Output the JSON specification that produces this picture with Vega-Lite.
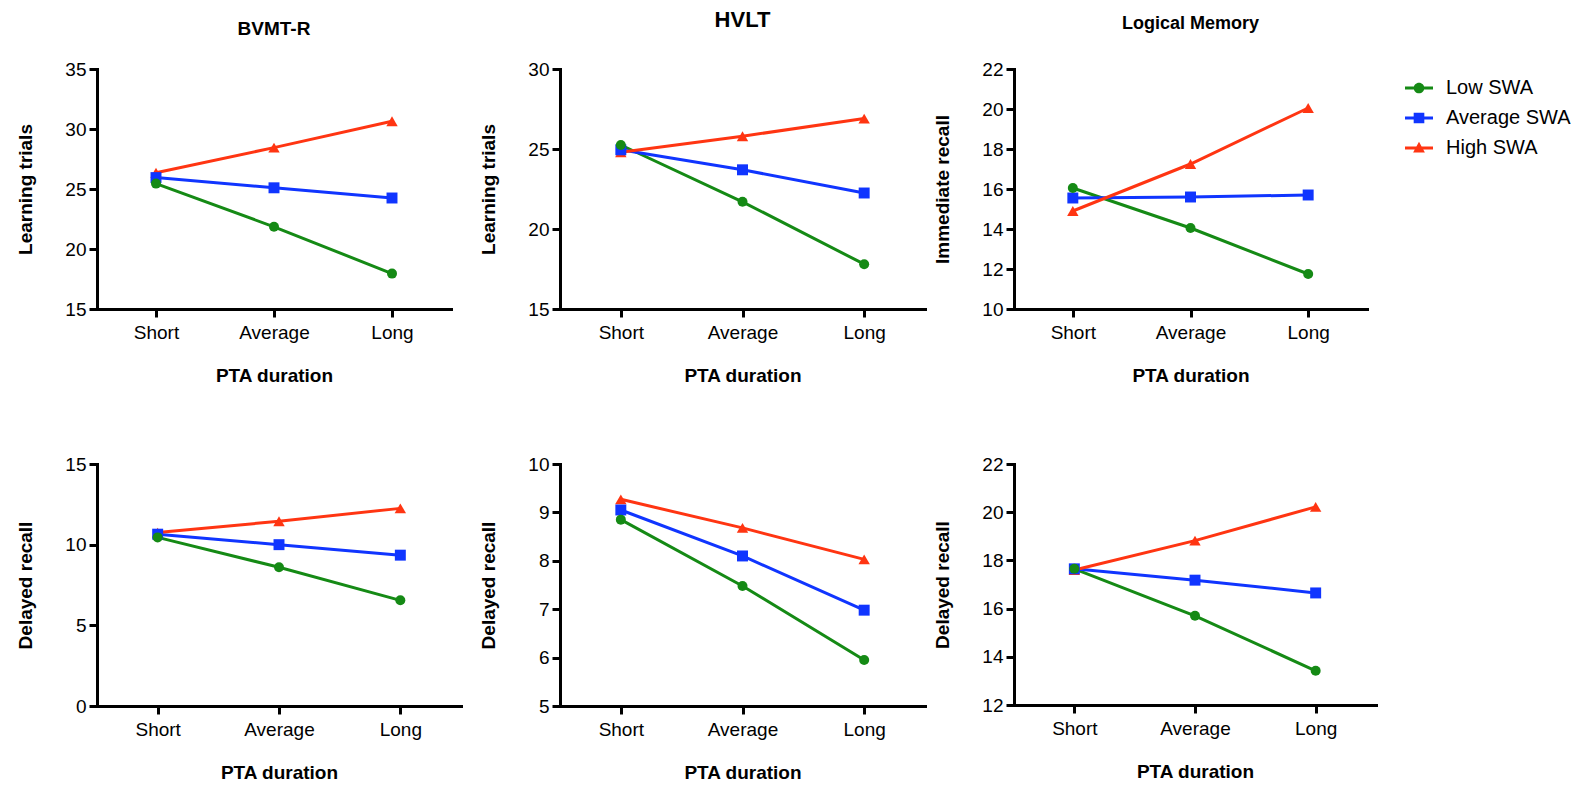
{
  "$schema": "https://vega.github.io/schema/vega-lite/v6.json",
  "padding": {"left": 15, "top": 9, "right": 0, "bottom": 0},
  "config": {
    "font": "Liberation Sans",
    "view": {"stroke": null},
    "axis": {
      "grid": false,
      "domainColor": "#000000",
      "domainWidth": 3,
      "domainCap": "square",
      "tickColor": "#000000",
      "tickWidth": 3,
      "tickSize": 8,
      "labelColor": "#000000",
      "labelFont": "Liberation Sans",
      "labelFontSize": 19,
      "titleColor": "#000000",
      "titleFont": "Liberation Sans",
      "titleFontSize": 19,
      "titleFontWeight": "bold"
    },
    "axisX": {"labelAngle": 0, "labelPadding": 6, "titlePadding": 24},
    "axisY": {"labelPadding": 3, "titleX": -62},
    "title": {"font": "Liberation Sans", "fontWeight": "bold", "color": "#000000", "anchor": "middle", "baseline": "bottom"}
  },
  "data": {"values": [
    {"panel": "P1", "group": "Low SWA", "pta": "Short", "value": 25.45},
    {"panel": "P1", "group": "Low SWA", "pta": "Average", "value": 21.85},
    {"panel": "P1", "group": "Low SWA", "pta": "Long", "value": 17.95},
    {"panel": "P1", "group": "Average SWA", "pta": "Short", "value": 25.95},
    {"panel": "P1", "group": "Average SWA", "pta": "Average", "value": 25.1},
    {"panel": "P1", "group": "Average SWA", "pta": "Long", "value": 24.25},
    {"panel": "P1", "group": "High SWA", "pta": "Short", "value": 26.35},
    {"panel": "P1", "group": "High SWA", "pta": "Average", "value": 28.45},
    {"panel": "P1", "group": "High SWA", "pta": "Long", "value": 30.65},
    {"panel": "P2", "group": "Low SWA", "pta": "Short", "value": 25.25},
    {"panel": "P2", "group": "Low SWA", "pta": "Average", "value": 21.7},
    {"panel": "P2", "group": "Low SWA", "pta": "Long", "value": 17.8},
    {"panel": "P2", "group": "Average SWA", "pta": "Short", "value": 24.95},
    {"panel": "P2", "group": "Average SWA", "pta": "Average", "value": 23.7},
    {"panel": "P2", "group": "Average SWA", "pta": "Long", "value": 22.25},
    {"panel": "P2", "group": "High SWA", "pta": "Short", "value": 24.8},
    {"panel": "P2", "group": "High SWA", "pta": "Average", "value": 25.8},
    {"panel": "P2", "group": "High SWA", "pta": "Long", "value": 26.9},
    {"panel": "P3", "group": "Low SWA", "pta": "Short", "value": 16.05},
    {"panel": "P3", "group": "Low SWA", "pta": "Average", "value": 14.05},
    {"panel": "P3", "group": "Low SWA", "pta": "Long", "value": 11.75},
    {"panel": "P3", "group": "Average SWA", "pta": "Short", "value": 15.55},
    {"panel": "P3", "group": "Average SWA", "pta": "Average", "value": 15.6},
    {"panel": "P3", "group": "Average SWA", "pta": "Long", "value": 15.7},
    {"panel": "P3", "group": "High SWA", "pta": "Short", "value": 14.9},
    {"panel": "P3", "group": "High SWA", "pta": "Average", "value": 17.25},
    {"panel": "P3", "group": "High SWA", "pta": "Long", "value": 20.05},
    {"panel": "P4", "group": "Low SWA", "pta": "Short", "value": 10.45},
    {"panel": "P4", "group": "Low SWA", "pta": "Average", "value": 8.6},
    {"panel": "P4", "group": "Low SWA", "pta": "Long", "value": 6.55},
    {"panel": "P4", "group": "Average SWA", "pta": "Short", "value": 10.65},
    {"panel": "P4", "group": "Average SWA", "pta": "Average", "value": 10.0},
    {"panel": "P4", "group": "Average SWA", "pta": "Long", "value": 9.35},
    {"panel": "P4", "group": "High SWA", "pta": "Short", "value": 10.75},
    {"panel": "P4", "group": "High SWA", "pta": "Average", "value": 11.45},
    {"panel": "P4", "group": "High SWA", "pta": "Long", "value": 12.25},
    {"panel": "P5", "group": "Low SWA", "pta": "Short", "value": 8.85},
    {"panel": "P5", "group": "Low SWA", "pta": "Average", "value": 7.48},
    {"panel": "P5", "group": "Low SWA", "pta": "Long", "value": 5.95},
    {"panel": "P5", "group": "Average SWA", "pta": "Short", "value": 9.05},
    {"panel": "P5", "group": "Average SWA", "pta": "Average", "value": 8.1},
    {"panel": "P5", "group": "Average SWA", "pta": "Long", "value": 6.98},
    {"panel": "P5", "group": "High SWA", "pta": "Short", "value": 9.27},
    {"panel": "P5", "group": "High SWA", "pta": "Average", "value": 8.68},
    {"panel": "P5", "group": "High SWA", "pta": "Long", "value": 8.03},
    {"panel": "P6", "group": "Low SWA", "pta": "Short", "value": 17.65},
    {"panel": "P6", "group": "Low SWA", "pta": "Average", "value": 15.7},
    {"panel": "P6", "group": "Low SWA", "pta": "Long", "value": 13.42},
    {"panel": "P6", "group": "Average SWA", "pta": "Short", "value": 17.65},
    {"panel": "P6", "group": "Average SWA", "pta": "Average", "value": 17.18},
    {"panel": "P6", "group": "Average SWA", "pta": "Long", "value": 16.65},
    {"panel": "P6", "group": "High SWA", "pta": "Short", "value": 17.6},
    {"panel": "P6", "group": "High SWA", "pta": "Average", "value": 18.82},
    {"panel": "P6", "group": "High SWA", "pta": "Long", "value": 20.22}
  ]},
  "hconcat": [
    {
      "spacing": 17,
      "hconcat": [
        {
          "spacing": 70,
          "vconcat": [
            {
              "width": 354, "height": 240,
              "title": {"text": "BVMT-R", "fontSize": 19, "offset": 21},
              "transform": [{"filter": "datum.panel === 'P1'"}],
              "encoding": {
                "x": {"field": "pta", "type": "ordinal", "scale": {"type": "point", "domain": ["Short", "Average", "Long"], "padding": 0.5}, "axis": {"title": "PTA duration"}},
                "y": {"field": "value", "type": "quantitative", "scale": {"domain": [15, 35], "nice": false, "zero": false}, "axis": {"title": "Learning trials", "values": [15, 20, 25, 30, 35], "format": "d"}}
              },
              "layer": [
                {"mark": {"type": "line", "strokeWidth": 3}, "encoding": {"color": {"field": "group", "type": "nominal", "scale": {"domain": ["Low SWA", "Average SWA", "High SWA"], "range": ["#158a15", "#1035ff", "#ff3512"]}, "legend": null}}},
                {"transform": [{"filter": "datum.group === 'High SWA'"}], "mark": {"type": "point", "shape": "triangle-up", "filled": true, "opacity": 1, "size": 130, "color": "#ff3512"}},
                {"transform": [{"filter": "datum.group === 'Average SWA'"}], "mark": {"type": "point", "shape": "square", "filled": true, "opacity": 1, "size": 120, "color": "#1035ff"}},
                {"transform": [{"filter": "datum.group === 'Low SWA'"}], "mark": {"type": "point", "shape": "circle", "filled": true, "opacity": 1, "size": 100, "color": "#158a15"}}
              ]
            },
            {
              "width": 364, "height": 242,
              "transform": [{"filter": "datum.panel === 'P4'"}],
              "encoding": {
                "x": {"field": "pta", "type": "ordinal", "scale": {"type": "point", "domain": ["Short", "Average", "Long"], "padding": 0.5}, "axis": {"title": "PTA duration"}},
                "y": {"field": "value", "type": "quantitative", "scale": {"domain": [0, 15], "nice": false, "zero": false}, "axis": {"title": "Delayed recall", "values": [0, 5, 10, 15], "format": "d"}}
              },
              "layer": [
                {"mark": {"type": "line", "strokeWidth": 3}, "encoding": {"color": {"field": "group", "type": "nominal", "scale": {"domain": ["Low SWA", "Average SWA", "High SWA"], "range": ["#158a15", "#1035ff", "#ff3512"]}, "legend": null}}},
                {"transform": [{"filter": "datum.group === 'High SWA'"}], "mark": {"type": "point", "shape": "triangle-up", "filled": true, "opacity": 1, "size": 130, "color": "#ff3512"}},
                {"transform": [{"filter": "datum.group === 'Average SWA'"}], "mark": {"type": "point", "shape": "square", "filled": true, "opacity": 1, "size": 120, "color": "#1035ff"}},
                {"transform": [{"filter": "datum.group === 'Low SWA'"}], "mark": {"type": "point", "shape": "circle", "filled": true, "opacity": 1, "size": 100, "color": "#158a15"}}
              ]
            }
          ]
        },
        {
          "spacing": 70,
          "vconcat": [
            {
              "width": 365, "height": 240,
              "title": {"text": "HVLT", "fontSize": 22, "offset": 28},
              "transform": [{"filter": "datum.panel === 'P2'"}],
              "encoding": {
                "x": {"field": "pta", "type": "ordinal", "scale": {"type": "point", "domain": ["Short", "Average", "Long"], "padding": 0.5}, "axis": {"title": "PTA duration"}},
                "y": {"field": "value", "type": "quantitative", "scale": {"domain": [15, 30], "nice": false, "zero": false}, "axis": {"title": "Learning trials", "values": [15, 20, 25, 30], "format": "d"}}
              },
              "layer": [
                {"mark": {"type": "line", "strokeWidth": 3}, "encoding": {"color": {"field": "group", "type": "nominal", "scale": {"domain": ["Low SWA", "Average SWA", "High SWA"], "range": ["#158a15", "#1035ff", "#ff3512"]}, "legend": null}}},
                {"transform": [{"filter": "datum.group === 'High SWA'"}], "mark": {"type": "point", "shape": "triangle-up", "filled": true, "opacity": 1, "size": 130, "color": "#ff3512"}},
                {"transform": [{"filter": "datum.group === 'Average SWA'"}], "mark": {"type": "point", "shape": "square", "filled": true, "opacity": 1, "size": 120, "color": "#1035ff"}},
                {"transform": [{"filter": "datum.group === 'Low SWA'"}], "mark": {"type": "point", "shape": "circle", "filled": true, "opacity": 1, "size": 100, "color": "#158a15"}}
              ]
            },
            {
              "width": 365, "height": 242,
              "transform": [{"filter": "datum.panel === 'P5'"}],
              "encoding": {
                "x": {"field": "pta", "type": "ordinal", "scale": {"type": "point", "domain": ["Short", "Average", "Long"], "padding": 0.5}, "axis": {"title": "PTA duration"}},
                "y": {"field": "value", "type": "quantitative", "scale": {"domain": [5, 10], "nice": false, "zero": false}, "axis": {"title": "Delayed recall", "values": [5, 6, 7, 8, 9, 10], "format": "d"}}
              },
              "layer": [
                {"mark": {"type": "line", "strokeWidth": 3}, "encoding": {"color": {"field": "group", "type": "nominal", "scale": {"domain": ["Low SWA", "Average SWA", "High SWA"], "range": ["#158a15", "#1035ff", "#ff3512"]}, "legend": null}}},
                {"transform": [{"filter": "datum.group === 'High SWA'"}], "mark": {"type": "point", "shape": "triangle-up", "filled": true, "opacity": 1, "size": 130, "color": "#ff3512"}},
                {"transform": [{"filter": "datum.group === 'Average SWA'"}], "mark": {"type": "point", "shape": "square", "filled": true, "opacity": 1, "size": 120, "color": "#1035ff"}},
                {"transform": [{"filter": "datum.group === 'Low SWA'"}], "mark": {"type": "point", "shape": "circle", "filled": true, "opacity": 1, "size": 100, "color": "#158a15"}}
              ]
            }
          ]
        }
      ]
    },
    {
      "spacing": 70,
      "resolve": {"legend": {"color": "independent", "shape": "independent"}},
      "vconcat": [
        {
          "width": 353, "height": 240,
          "title": {"text": "Logical Memory", "fontSize": 18, "offset": 27},
          "transform": [{"filter": "datum.panel === 'P3'"}],
          "encoding": {
            "x": {"field": "pta", "type": "ordinal", "scale": {"type": "point", "domain": ["Short", "Average", "Long"], "padding": 0.5}, "axis": {"title": "PTA duration"}},
            "y": {"field": "value", "type": "quantitative", "scale": {"domain": [10, 22], "nice": false, "zero": false}, "axis": {"title": "Immediate recall", "values": [10, 12, 14, 16, 18, 20, 22], "format": "d"}}
          },
          "layer": [
            {
              "mark": {"type": "point", "filled": true, "opacity": 0, "size": 784},
              "encoding": {
                "color": {"field": "group", "type": "nominal", "scale": {"domain": ["Low SWA", "Average SWA", "High SWA"], "range": ["#158a15", "#1035ff", "#ff3512"]},
                  "legend": {"title": null, "orient": "right", "offset": 33, "padding": 5, "symbolSize": 784, "symbolStrokeWidth": 0, "symbolOpacity": 1, "labelFontSize": 20, "labelFont": "Liberation Sans", "labelColor": "#000000", "labelOffset": 13, "rowPadding": 6}},
                "shape": {"field": "group", "type": "nominal", "scale": {"domain": ["Low SWA", "Average SWA", "High SWA"], "range": [
                  "M-1,-0.11H1V0.11H-1Z M-0.38,0A0.38,0.38 0 1,1 0.38,0A0.38,0.38 0 1,1 -0.38,0Z",
                  "M-1,-0.11H1V0.11H-1Z M-0.38,-0.38H0.38V0.38H-0.38Z",
                  "M-1,-0.11H1V0.11H-1Z M0,-0.44L0.42,0.32H-0.42Z"]},
                  "legend": {"title": null, "orient": "right", "offset": 33, "padding": 5, "symbolSize": 784, "symbolStrokeWidth": 0, "symbolOpacity": 1, "labelFontSize": 20, "labelFont": "Liberation Sans", "labelColor": "#000000", "labelOffset": 13, "rowPadding": 6}}
              }
            },
            {"mark": {"type": "line", "strokeWidth": 3}, "encoding": {"color": {"field": "group", "type": "nominal", "scale": {"domain": ["Low SWA", "Average SWA", "High SWA"], "range": ["#158a15", "#1035ff", "#ff3512"]}, "legend": null}}},
            {"transform": [{"filter": "datum.group === 'High SWA'"}], "mark": {"type": "point", "shape": "triangle-up", "filled": true, "opacity": 1, "size": 130, "color": "#ff3512"}},
            {"transform": [{"filter": "datum.group === 'Average SWA'"}], "mark": {"type": "point", "shape": "square", "filled": true, "opacity": 1, "size": 120, "color": "#1035ff"}},
            {"transform": [{"filter": "datum.group === 'Low SWA'"}], "mark": {"type": "point", "shape": "circle", "filled": true, "opacity": 1, "size": 100, "color": "#158a15"}}
          ]
        },
        {
          "width": 362, "height": 241,
          "transform": [{"filter": "datum.panel === 'P6'"}],
          "encoding": {
            "x": {"field": "pta", "type": "ordinal", "scale": {"type": "point", "domain": ["Short", "Average", "Long"], "padding": 0.5}, "axis": {"title": "PTA duration"}},
            "y": {"field": "value", "type": "quantitative", "scale": {"domain": [12, 22], "nice": false, "zero": false}, "axis": {"title": "Delayed recall", "values": [12, 14, 16, 18, 20, 22], "format": "d"}}
          },
          "layer": [
            {"mark": {"type": "line", "strokeWidth": 3}, "encoding": {"color": {"field": "group", "type": "nominal", "scale": {"domain": ["Low SWA", "Average SWA", "High SWA"], "range": ["#158a15", "#1035ff", "#ff3512"]}, "legend": null}}},
            {"transform": [{"filter": "datum.group === 'High SWA'"}], "mark": {"type": "point", "shape": "triangle-up", "filled": true, "opacity": 1, "size": 130, "color": "#ff3512"}},
            {"transform": [{"filter": "datum.group === 'Average SWA'"}], "mark": {"type": "point", "shape": "square", "filled": true, "opacity": 1, "size": 120, "color": "#1035ff"}},
            {"transform": [{"filter": "datum.group === 'Low SWA'"}], "mark": {"type": "point", "shape": "circle", "filled": true, "opacity": 1, "size": 100, "color": "#158a15"}}
          ]
        }
      ]
    }
  ],
  "spacing": 7
}
